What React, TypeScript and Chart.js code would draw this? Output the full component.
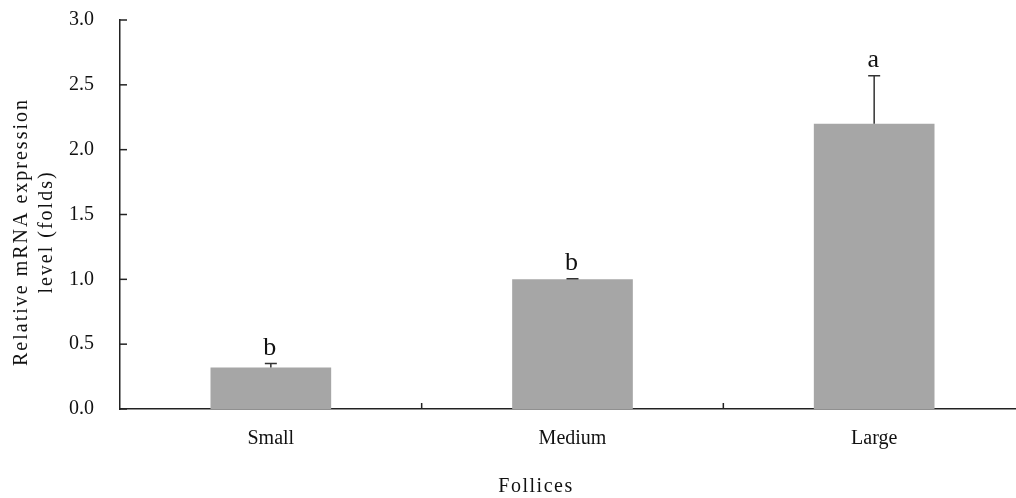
import React, { useEffect, useRef } from "react";
import { Chart, registerables } from "chart.js";
Chart.register(...registerables);

const categories = ["Small", "Medium", "Large"];
const means = [0.32, 1.0, 2.2];
const errors = [0.03, 0.005, 0.37];
const letters = ["b", "b", "a"];
const yTicks = [0, 0.5, 1.0, 1.5, 2.0, 2.5, 3.0];
const yTitle = ["Relative mRNA expression", "level (folds)"];
const xTitle = "Follices";

const FONT = "'Liberation Serif', 'Times New Roman', serif";

const overlayPlugin = {
  id: "overlay",
  afterDatasetsDraw(chart: any) {
    const { ctx, scales, chartArea } = chart;
    const x = scales.x;
    const y = scales.y;
    ctx.save();
    // error bars
    ctx.strokeStyle = "#333";
    ctx.lineWidth = 1.5;
    means.forEach((m, i) => {
      const px = x.getPixelForValue(i);
      const top = y.getPixelForValue(m + errors[i]);
      const base = y.getPixelForValue(m);
      ctx.beginPath();
      ctx.moveTo(px, base);
      ctx.lineTo(px, top);
      ctx.moveTo(px - 6, top);
      ctx.lineTo(px + 6, top);
      ctx.stroke();
      ctx.fillStyle = "#111";
      ctx.font = `26px ${FONT}`;
      ctx.textAlign = "center";
      ctx.textBaseline = "alphabetic";
      ctx.fillText(letters[i], px - 1, top - 9);
    });
    // inside ticks
    ctx.strokeStyle = "#222";
    ctx.lineWidth = 1.5;
    yTicks.forEach((v) => {
      const py = y.getPixelForValue(v);
      ctx.beginPath();
      ctx.moveTo(chartArea.left, py);
      ctx.lineTo(chartArea.left + 7, py);
      ctx.stroke();
    });
    for (let i = 0; i < categories.length - 1; i++) {
      const px = (x.getPixelForValue(i) + x.getPixelForValue(i + 1)) / 2;
      ctx.beginPath();
      ctx.moveTo(px, chartArea.bottom);
      ctx.lineTo(px, chartArea.bottom - 6);
      ctx.stroke();
    }
    // titles
    ctx.fillStyle = "#111";
    ctx.font = `20px ${FONT}`;
    ctx.textAlign = "center";
    ctx.textBaseline = "middle";
    (ctx as any).letterSpacing = "1.5px";
    ctx.fillText(xTitle, 536, 487);
    ctx.save();
    ctx.translate(0, 232);
    ctx.rotate(-Math.PI / 2);
    (ctx as any).letterSpacing = "2px";
    ctx.fillText(yTitle[0], 0, 22);
    ctx.fillText(yTitle[1], 0, 47);
    ctx.restore();
    ctx.restore();
  },
};

export default function App() {
  const ref = useRef<HTMLCanvasElement>(null);
  useEffect(() => {
    if (!ref.current) return;
    const chart = new Chart(ref.current, {
      type: "bar",
      data: {
        labels: categories,
        datasets: [
          {
            data: means,
            backgroundColor: "#a6a6a6",
            barPercentage: 0.8,
            categoryPercentage: 0.5,
          },
        ],
      },
      options: {
        responsive: false,
        animation: false,
        layout: { padding: { top: 20, right: 5, left: 0, bottom: 0 } },
        plugins: { legend: { display: false }, tooltip: { enabled: false } },
        scales: {
          x: {
            offset: true,
            grid: { display: false },
            border: { display: true, color: "#222", width: 1.5 },
            ticks: { color: "#111", font: { family: FONT, size: 20 }, padding: 10, maxRotation: 0 },
            afterFit: (s: any) => {
              s.height = 89;
              s.paddingLeft = 0;
              s.paddingRight = 0;
            },
          },
          y: {
            min: 0,
            max: 3,
            grid: { display: false },
            border: { display: true, color: "#222", width: 1.5 },
            ticks: {
              stepSize: 0.5,
              color: "#111",
              font: { family: FONT, size: 20 },
              padding: 18,
              callback: (v: any) => Number(v).toFixed(1),
            },
            afterFit: (s: any) => {
              s.width = 120;
              s.paddingTop = 0;
              s.paddingBottom = 0;
            },
          },
        },
      },
      plugins: [overlayPlugin],
    });
    return () => chart.destroy();
  }, []);
  return (
    <div style={{ position: "fixed", left: 0, top: 0, width: 1016, height: 498, overflow: "hidden", background: "#fff" }}>
      <canvas ref={ref} width={1030} height={498} style={{ display: "block" }} />
    </div>
  );
}
